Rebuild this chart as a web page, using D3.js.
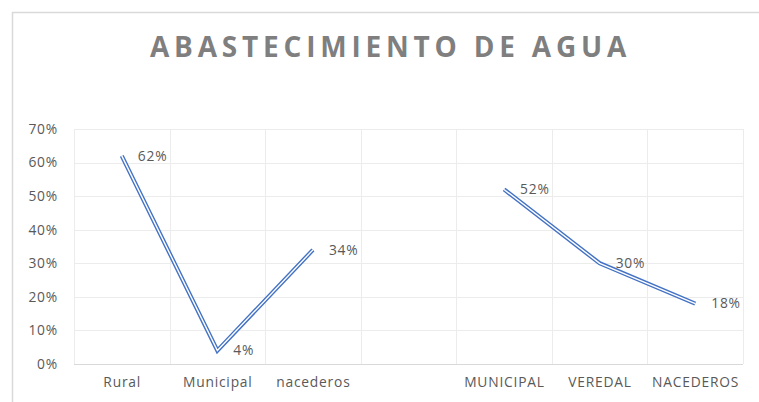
<!DOCTYPE html>
<html>
<head>
<meta charset="utf-8">
<script src="https://cdn.jsdelivr.net/npm/d3@7"></script>
<style>
  body { margin: 0; background: #fff; }
  text { font-family: "Open Sans", "Liberation Sans", sans-serif; }
</style>
</head>
<body>
<div class="chart"></div>
<script>
var width = 759,
    height = 402;

// categories (4th slot is an empty gap between the two groups)
var categories = ["Rural", "Municipal", "nacederos", "", "MUNICIPAL", "VEREDAL", "NACEDEROS"];
var seriesA = [
  {cat: "Rural", value: 0.62},
  {cat: "Municipal", value: 0.04},
  {cat: "nacederos", value: 0.34}
];
var seriesB = [
  {cat: "MUNICIPAL", value: 0.52},
  {cat: "VEREDAL", value: 0.30},
  {cat: "NACEDEROS", value: 0.18}
];
var yTicks = [0, 0.1, 0.2, 0.3, 0.4, 0.5, 0.6, 0.7];

var margin = {left: 74, right: 16, top: 129, bottom: 38};
var fontSize = "13.8px",
    spacing = "0.8px";

var svg = d3.select(".chart").append("svg")
    .attr("width", width)
    .attr("height", height);

// chart frame
svg.append("rect")
    .attr("x", 12.5)
    .attr("y", 12.5)
    .attr("width", 800)
    .attr("height", 500)
    .attr("fill", "none")
    .attr("stroke", "#d9d9d9")
    .attr("stroke-width", 1.5);

svg.append("text")
    .attr("x", 390.5)
    .attr("y", 56.5)
    .attr("text-anchor", "middle")
    .attr("fill", "#7f7f7f")
    .style("font-size", "28px")
    .style("font-weight", "bold")
    .style("letter-spacing", "4.8px")
    .text("ABASTECIMIENTO DE AGUA");

var x = d3.scaleBand()
    .domain(d3.range(categories.length))
    .range([margin.left, width - margin.right]);

var y = d3.scaleLinear()
    .domain([0, 0.7])
    .range([height - margin.bottom, margin.top]);

var xc = function(cat) { return x(categories.indexOf(cat)) + x.bandwidth() / 2; };

// horizontal grid
svg.append("g").attr("class", "grid-y")
  .selectAll("line").data(yTicks)
  .enter().append("line")
    .attr("x1", margin.left)
    .attr("x2", width - margin.right)
    .attr("y1", d => Math.round(y(d)) + 0.5)
    .attr("y2", d => Math.round(y(d)) + 0.5)
    .attr("stroke", d => d === 0 ? "#d9d9d9" : "#ececec")
    .attr("stroke-width", 1);

// vertical grid at band edges
var edges = d3.range(categories.length + 1).map(i => margin.left + i * x.bandwidth());
svg.append("g").attr("class", "grid-x")
  .selectAll("line").data(edges)
  .enter().append("line")
    .attr("x1", d => Math.round(d) + 0.5)
    .attr("x2", d => Math.round(d) + 0.5)
    .attr("y1", margin.top)
    .attr("y2", height - margin.bottom)
    .attr("stroke", "#ececec")
    .attr("stroke-width", 1);

// y axis labels
var yAxis = d3.axisLeft(y)
    .tickValues(yTicks)
    .tickFormat(d3.format(".0%"))
    .tickSize(0)
    .tickPadding(0);

var ya = svg.append("g")
    .attr("transform", "translate(" + (margin.left - 16) + ",0)")
    .call(yAxis);
ya.select(".domain").remove();
ya.selectAll("text")
    .attr("fill", "#595959")
    .style("font-size", fontSize)
    .style("letter-spacing", spacing)
    .style("font-family", "'Open Sans', sans-serif");

// x axis labels
var xAxis = d3.axisBottom(x)
    .tickFormat(i => categories[i])
    .tickSize(0)
    .tickPadding(0);

var xa = svg.append("g")
    .attr("transform", "translate(0," + (height - margin.bottom + 13) + ")")
    .call(xAxis);
xa.select(".domain").remove();
xa.selectAll("text")
    .attr("dx", "0.4px")
    .attr("fill", "#595959")
    .style("font-size", fontSize)
    .style("letter-spacing", spacing)
    .style("font-family", "'Open Sans', sans-serif");

var line = d3.line()
    .x(d => xc(d.cat))
    .y(d => y(d.value));

// double (compound) lines: thick blue with thin white core
[seriesA, seriesB].forEach(function(s) {
  svg.append("path")
      .datum(s)
      .attr("d", line)
      .attr("fill", "none")
      .attr("stroke", "#4472c4")
      .attr("stroke-width", 4.2)
      .attr("stroke-linejoin", "miter")
      .attr("stroke-linecap", "butt");
  svg.append("path")
      .datum(s)
      .attr("d", line)
      .attr("fill", "none")
      .attr("stroke", "#fff")
      .attr("stroke-width", 1.4)
      .attr("stroke-linejoin", "miter")
      .attr("stroke-linecap", "butt");
});

// data labels
svg.append("g").attr("class", "labels")
  .selectAll("text").data(seriesA.concat(seriesB))
  .enter().append("text")
    .attr("x", d => xc(d.cat) + 16)
    .attr("y", d => y(d.value) + 1)
    .attr("dominant-baseline", "middle")
    .attr("fill", "#595959")
    .style("font-size", fontSize)
    .style("letter-spacing", spacing)
    .text(d => Math.round(d.value * 100) + "%");
</script>
</body>
</html>
